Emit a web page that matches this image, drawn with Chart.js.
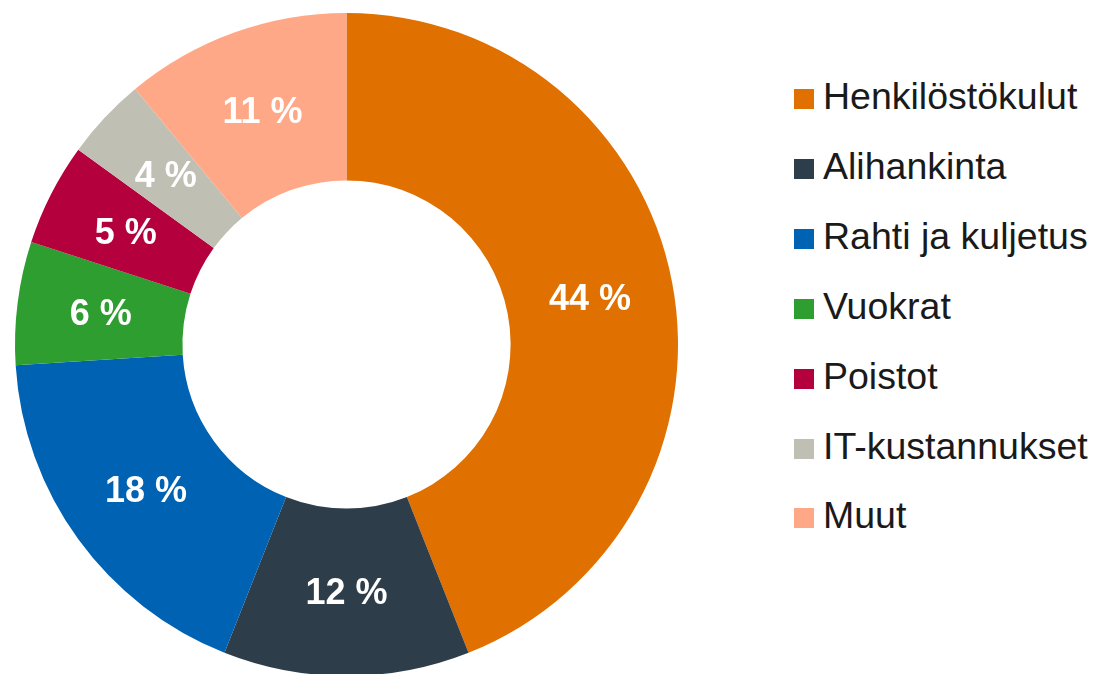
<!DOCTYPE html>
<html>
<head>
<meta charset="utf-8">
<script src="https://cdn.jsdelivr.net/npm/chart.js@4/dist/chart.umd.min.js"></script>
<style>
    html, body {
        margin: 0;
        padding: 0;
        width: 1100px;
        height: 674px;
        overflow: hidden;
        background: #fff;
    }
    #costChart {
        position: absolute;
        left: 0;
        top: 0;
    }
    #legend {
        position: absolute;
        left: 794px;
        top: 62px;
        font-family: "Liberation Sans", Arial, sans-serif;
        font-size: 37.5px;
        line-height: 69.9px;
        color: #1a1a1a;
        white-space: nowrap;
    }
    #legend .box {
        display: inline-block;
        width: 20px;
        height: 20px;
        margin-right: 9px;
    }
</style>
</head>
<body>
<canvas id="costChart" width="700" height="680"></canvas>
<div id="legend"></div>
<script>
    const categories = ["Henkilöstökulut", "Alihankinta", "Rahti ja kuljetus", "Vuokrat", "Poistot", "IT-kustannukset", "Muut"];
    const shares = [44, 12, 18, 6, 5, 4, 11];
    const colors = ["#E07000", "#2E3D4A", "#0062B3", "#2D9E2F", "#B4003C", "#C0BFB3", "#FFA887"];

    // labels in the middle of each slice
    const sliceLabels = {
        id: "sliceLabels",
        afterDatasetsDraw(chart) {
            const ctx = chart.ctx;
            const meta = chart.getDatasetMeta(0);
            ctx.save();
            ctx.font = "bold 36px 'Liberation Sans', Arial, sans-serif";
            ctx.fillStyle = "#ffffff";
            ctx.textAlign = "center";
            ctx.textBaseline = "middle";
            meta.data.forEach((arc, i) => {
                const pos = arc.getCenterPoint();
                ctx.fillText(shares[i] + " %", pos.x, pos.y + 2);
            });
            ctx.restore();
        }
    };

    new Chart(document.getElementById("costChart"), {
        type: "doughnut",
        data: {
            labels: categories,
            datasets: [
                {
                    data: shares,
                    backgroundColor: colors,
                    borderWidth: 0
                }
            ]
        },
        options: {
            responsive: false,
            animation: false,
            cutout: "49.5%",
            layout: {
                padding: { left: 15, top: 13, right: 22, bottom: 4 }
            },
            plugins: {
                legend: { display: false },
                tooltip: { enabled: false }
            }
        },
        plugins: [sliceLabels]
    });

    const legend = document.getElementById("legend");
    categories.forEach((name, i) => {
        const row = document.createElement("div");
        const box = document.createElement("span");
        box.className = "box";
        box.style.background = colors[i];
        row.appendChild(box);
        row.appendChild(document.createTextNode(name));
        legend.appendChild(row);
    });
</script>
</body>
</html>
